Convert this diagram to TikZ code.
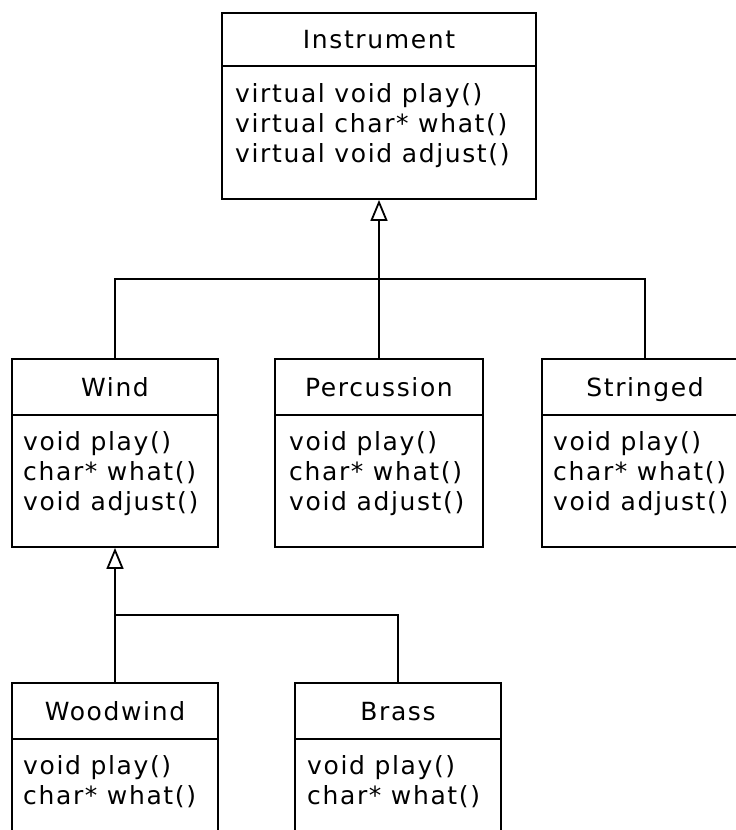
\documentclass[tikz,border=0pt]{standalone}
\usepackage{fontspec}
\setmainfont{DejaVu Sans}[LetterSpace=6.5]
\usetikzlibrary{arrows.meta}
\tikzset{
  box/.style={draw, line width=1.8pt, inner sep=0pt, fill=white},
  head/.style={box, text height=18pt, text depth=0pt},
  member/.style={anchor=base west, inner sep=0pt},
  link/.style={line width=1.8pt},
  inherit/.style={link, -{Triangle[open, length=21pt, width=17pt, line width=1.8pt]}},
}
\newcommand{\mlines}[1]{\begin{tabular}[t]{@{}l@{}}#1\end{tabular}}
\begin{document}
\begin{tikzpicture}[x=1pt,y=-1pt,font=\fontsize{25pt}{30pt}\selectfont]
\useasboundingbox (0,0) rectangle (736,830);
\clip (0,0) rectangle (736,830);
\fill[white] (0,0) rectangle (736,830);

% Instrument
\node[head, minimum width=314pt, minimum height=53pt] (insth) at (379,39.5) {Instrument};
\node[box, minimum width=314pt, minimum height=133pt] (instb) at (379,132.5) {};
\node[member] (instt) at (235,102) {\mlines{virtual void play()\\virtual char* what()\\virtual void adjust()}};

% Wind
\node[head, minimum width=206pt, minimum height=56pt] (windh) at (115,387) {Wind};
\node[box, minimum width=206pt, minimum height=132pt] (windb) at (115,481) {};
\node[member] (windt) at (23,450) {\mlines{void play()\\char* what()\\void adjust()}};

% Percussion
\node[head, minimum width=208pt, minimum height=56pt] (perch) at (379,387) {Percussion};
\node[box, minimum width=208pt, minimum height=132pt] (percb) at (379,481) {};
\node[member] (perct) at (289,450) {\mlines{void play()\\char* what()\\void adjust()}};

% Stringed
\node[head, minimum width=206pt, minimum height=56pt] (strh) at (645,387) {Stringed};
\node[box, minimum width=206pt, minimum height=132pt] (strb) at (645,481) {};
\node[member] (strt) at (553,450) {\mlines{void play()\\char* what()\\void adjust()}};

% Woodwind
\node[head, minimum width=206pt, minimum height=56pt] (woodh) at (115,711) {Woodwind};
\node[box, minimum width=206pt, minimum height=132pt] (woodb) at (115,805) {};
\node[member] (woodt) at (23,774) {\mlines{void play()\\char* what()}};

% Brass
\node[head, minimum width=206pt, minimum height=56pt] (brassh) at (398,711) {Brass};
\node[box, minimum width=206pt, minimum height=132pt] (brassb) at (398,805) {};
\node[member] (brasst) at (307,774) {\mlines{void play()\\char* what()}};

% connectors, level 1
\coordinate (bus1) at (379,279);
\draw[link] (windh.north) |- (bus1);
\draw[link] (strh.north) |- (bus1);
\draw[link] (perch.north) -- (bus1);
\draw[inherit] (bus1) -- (instb.south);

% connectors, level 2
\coordinate (bus2) at (115,615);
\draw[link] (woodh.north) -- (bus2);
\draw[link] (brassh.north) |- (bus2);
\draw[inherit] (bus2) -- (windb.south);
\end{tikzpicture}
\end{document}
